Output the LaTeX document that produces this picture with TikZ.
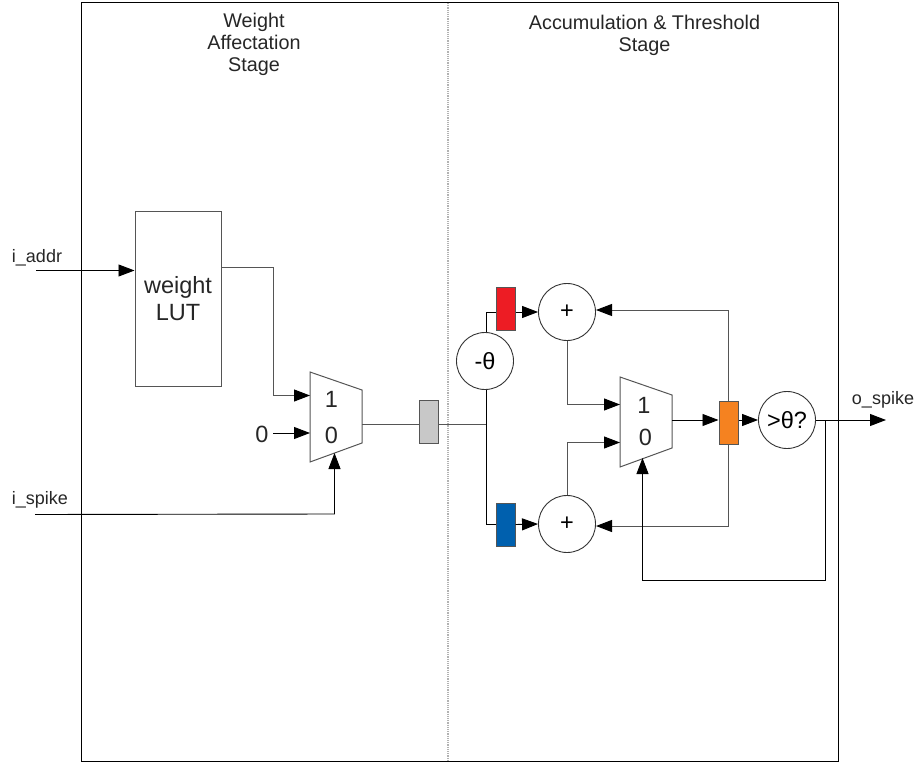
\documentclass[tikz,border=0pt]{standalone}
\usepackage{fontspec}
\setmainfont{Liberation Sans}
\usepackage{tikz}
\usetikzlibrary{positioning, arrows.meta, calc}

\newcommand{\smalltext}{\fontsize{18}{22}\selectfont}
\newcommand{\titletext}{\fontsize{19.8}{22}\selectfont}
\newcommand{\bigtext}{\fontsize{23.5}{27}\selectfont}

\definecolor{wiregray}{HTML}{555555}
\definecolor{regred}{HTML}{ED1C24}
\definecolor{regblue}{HTML}{0060AE}
\definecolor{regorange}{HTML}{F58220}
\definecolor{reggray}{HTML}{C8C8C8}

\tikzset{
  wire/.style={draw=wiregray, line width=1pt},
  bus/.style={draw=black, line width=0.9pt},
  arrow/.style={-{Triangle[length=16pt,width=12pt,color=black,fill=black]}},
  regbox/.style={draw=wiregray, line width=1pt, minimum width=19pt, minimum height=43pt, inner sep=0pt},
  opcircle/.style={draw=black!80, line width=0.9pt, circle, minimum size=57pt, inner sep=0pt, font=\bigtext},
  muxbox/.style={draw=wiregray, line width=1pt, line join=miter},
  textlabel/.style={inner sep=0pt, text=black!85},
}

\begin{document}
\begin{tikzpicture}[x=1pt,y=-1pt]
    \useasboundingbox (0,0) rectangle (915,762);

    % Draw frame and stage border
    \node[draw=black, line width=1pt, minimum width=757pt, minimum height=758pt, inner sep=0pt] (frame) at (459.5,382) {};
    \coordinate (dashtop) at (448,3);
    \coordinate (dashbottom) at (448,761);
    \draw[gray!60, line width=1.2pt, densely dotted] (dashtop) -- (dashbottom);

    % Stage titles
    \node[textlabel, align=center, font=\titletext] (stageA) at (254,44) {Weight\\Affectation\\Stage};
    \node[textlabel, align=center, font=\titletext] (stageB) at (644.5,35) {Accumulation \& Threshold\\Stage};

    % Blocks
    \node[draw=wiregray, line width=1pt, minimum width=86pt, minimum height=175pt, inner sep=0pt] (lut) at (178,298.5) {};
    \node[textlabel, align=center, font=\bigtext] (luttext) at (178,298.5) {weight\\LUT};
    \foreach \n/\x/\y in {muxA/310/372, muxB/620/377} {
      \draw[muxbox] (\x,\y) coordinate (\n) -- ++(52,18) coordinate (\n out) -- ++(0,53) -- ++(-52,19) -- cycle;
    }

    % Mux inputs
    \foreach \n/\x/\y/\t in {muxAone/331.5/399/1, muxAzero/331.5/435/0, muxBone/644/405/1, muxBzero/645.5/437/0, zero/262/434/0} {
      \node[textlabel, font=\bigtext] (\n) at (\x,\y) {\t};
    }

    % Registers
    \foreach \n/\x/\y/\c in {reggrey/428.5/422/reggray, regtop/505.5/308.5/regred, regbot/505.5/524.5/regblue, regout/728.5/422.5/regorange} {
      \node[regbox, fill=\c] (\n) at (\x,\y) {};
    }

    % Operators
    \foreach \n/\x/\y/\t in {plustop/567/312/+, plusbot/567/524/+, negth/485/361/-θ, cmpth/787/420/>θ?} {
      \node[opcircle] (\n) at (\x,\y) {\t};
    }

    % Signal labels
    \node[textlabel, font=\smalltext] (iaddr) at (37,258) {i\_addr};
    \node[textlabel, font=\smalltext] (ispike) at (40,500) {i\_spike};
    \node[textlabel, font=\smalltext] (ospike) at (883,400) {o\_spike};

    % Free wire ends
    \coordinate (addrin) at (36,270.5);
    \coordinate (spikein) at (35,514.5);
    \coordinate (spikeout) at (886,420);
    \coordinate (spikebend) at (334.5,514);
    \coordinate (lutout) at (221,267.5);
    \coordinate (lutbend) at (273,395.5);
    \coordinate (zerofrom) at (273,433);
    \coordinate (portAone) at (310,395.5);
    \coordinate (portAzero) at (310,433);
    \coordinate (portAsel) at (334.5,453);
    \coordinate (portAout) at (362,424);
    \coordinate (portBone) at (620,404.5);
    \coordinate (portBzero) at (620,442.5);
    \coordinate (portBsel) at (642.5,458);
    \coordinate (portBout) at (672,420);
    \coordinate (joint) at (486.5,424);
    \coordinate (fbstart) at (825,420);
    \coordinate (fbbend) at (642.5,580);
    \coordinate (plustopin) at (596,310);
    \coordinate (plusbotin) at (596,526);

    % Left stage wires
    \draw[bus, arrow] (addrin) -- (lut.west |- addrin);
    \draw[wire, arrow] (lutout) -| (lutbend) -- (portAone);
    \draw[bus, arrow] (zerofrom) -- (portAzero);
    \draw[bus, arrow] (spikein) -- (spikebend) -- (portAsel);
    \draw[wire] (portAout) -- (reggrey.west |- portAout);

    % Right stage wires
    \draw[wire] (reggrey.east |- joint) -- (joint);
    \draw[bus] (joint) -- (negth.south -| joint);
    \draw[bus] (negth.north -| joint) |- (regtop.west |- plustop.west);
    \draw[bus] (joint) |- (regbot.west);
    \draw[bus, arrow] (regtop.east |- plustop.west) -- (plustop.west);
    \draw[bus, arrow] (regbot.east) -- (plusbot.west);
    \draw[wire, arrow] (plustop.south) |- (portBone);
    \draw[wire, arrow] (plusbot.north) |- (portBzero);
    \draw[bus, arrow] (portBout) -- (regout.west |- portBout);
    \draw[bus, arrow] (regout.east |- cmpth.west) -- (cmpth.west);
    \draw[wire, arrow] (regout.north) |- (plustopin);
    \draw[wire, arrow] (regout.south) |- (plusbotin);
    \draw[bus, arrow] (cmpth.east) -- (spikeout);
    \draw[bus, arrow] (fbstart) |- (fbbend) -- (portBsel);
  \end{tikzpicture}
\end{document}
